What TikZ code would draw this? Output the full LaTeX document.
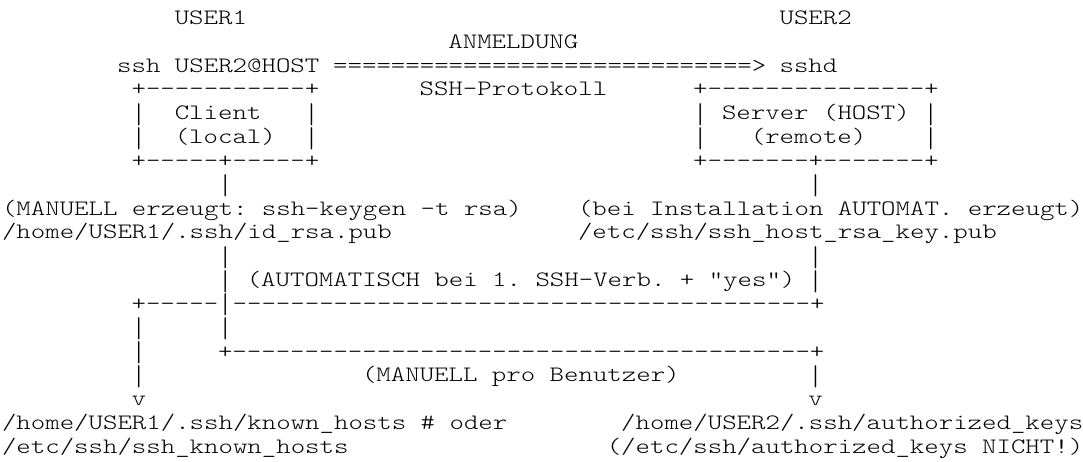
\documentclass[tikz,border=0pt]{standalone}
\usepackage{graphicx}
\usepackage{fontspec}
\setmonofont{lmmonolt10-regular.otf}[FakeStretch=1.25]
\ExplSyntaxOn
\NewDocumentCommand\chrun{mm}{\prg_replicate:nn{#1}{#2}}
\ExplSyntaxOff
% a tall bar, so that stacked bars read as one line
\newcommand\vbar{\raisebox{-3.4pt}{\scalebox{1}[1.3]{|}}}
\tikzset{
  asc/.style={font=\ttfamily\fontsize{22}{22}\selectfont, anchor=base west,
              inner sep=0pt, outer sep=0pt, text=black}
}
\begin{document}
\begin{tikzpicture}[x=14.40pt, y=-23.83pt]
  \useasboundingbox (-2pt,24.5pt) rectangle (1081pt,-436.5pt);
  % header: users, login arrow, protocol
  \node[asc] (user1) at (12,0) {USER1};
  \node[asc] (user2) at (54,0) {USER2};
  \node[asc] (anm)   at (31,1) {ANMELDUNG};
  \node[asc] (cmd)   at (8,2)  {ssh USER2@HOST};
  \node[asc] (login) at (23,2) {\chrun{29}{=}>};
  \node[asc] (sshd)  at (54,2) {sshd};
  \node[asc] (proto) at (29,3) {SSH-Protokoll};
  % client box
  \node[asc] (ctop)  at (9,3)  {+\chrun{11}{-}+};
  \node[asc] (cl1)   at (9,4)  {\vbar};
  \node[asc] (ctxt)  at (12,4) {Client};
  \node[asc] (cr1)   at (21,4) {\vbar};
  \node[asc] (cl2)   at (9,5)  {\vbar};
  \node[asc] (ctxt2) at (12,5) {(local)};
  \node[asc] (cr2)   at (21,5) {\vbar};
  \node[asc] (cbot)  at (9,6)  {+\chrun{5}{-}+\chrun{5}{-}+};
  % server box
  \node[asc] (stop)  at (48,3) {+\chrun{15}{-}+};
  \node[asc] (sl1)   at (48,4) {\vbar};
  \node[asc] (stxt)  at (50,4) {Server (HOST)};
  \node[asc] (sr1)   at (64,4) {\vbar};
  \node[asc] (sl2)   at (48,5) {\vbar};
  \node[asc] (stxt2) at (52,5) {(remote)};
  \node[asc] (sr2)   at (64,5) {\vbar};
  \node[asc] (sbot)  at (48,6) {+\chrun{7}{-}+\chrun{7}{-}+};
  % keys and where they are copied to
  \node[asc] (v1a)   at (15,7) {\vbar};
  \node[asc] (v2a)   at (56,7) {\vbar};
  \node[asc] (gen1)  at (0,8)  {(MANUELL erzeugt: ssh-keygen -t rsa)};
  \node[asc] (gen2)  at (40,8) {(bei Installation AUTOMAT. erzeugt)};
  \node[asc] (pub1)  at (0,9)  {/home/USER1/.ssh/id\_rsa.pub};
  \node[asc] (pub2)  at (40,9) {/etc/ssh/ssh\_host\_rsa\_key.pub};
  \node[asc] (v1b)   at (15,10) {\vbar};
  \node[asc] (v2b)   at (56,10) {\vbar};
  \node[asc] (v1c)   at (15,11) {\vbar};
  \node[asc] (auto)  at (17,11) {(AUTOMATISCH bei 1. SSH-Verb. + "yes")};
  \node[asc] (v2c)   at (56,11) {\vbar};
  \node[asc] (hostln) at (9,12) {+\chrun{5}{-}\vbar\chrun{40}{-}+};
  \node[asc] (v0a)   at (9,13)  {\vbar};
  \node[asc] (v1d)   at (15,13) {\vbar};
  \node[asc] (v0b)   at (9,14)  {\vbar};
  \node[asc] (userln) at (15,14) {+\chrun{40}{-}+};
  \node[asc] (v0c)   at (9,15)  {\vbar};
  \node[asc] (manu)  at (25,15) {(MANUELL pro Benutzer)};
  \node[asc] (v2d)   at (56,15) {\vbar};
  \node[asc] (arr1)  at (9,16)  {v};
  \node[asc] (arr2)  at (56,16) {v};
  \node[asc] (kh1)   at (0,17)  {/home/USER1/.ssh/known\_hosts \# oder};
  \node[asc] (ak1)   at (43,17) {/home/USER2/.ssh/authorized\_keys};
  \node[asc] (kh2)   at (0,18)  {/etc/ssh/ssh\_known\_hosts};
  \node[asc] (ak2)   at (42,18) {(/etc/ssh/authorized\_keys NICHT!)};
\end{tikzpicture}
\end{document}
